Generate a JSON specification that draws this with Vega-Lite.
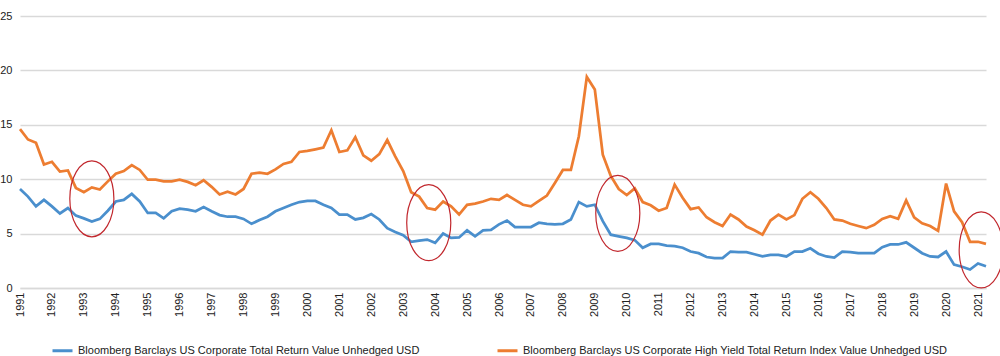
{
  "$schema": "https://vega.github.io/schema/vega-lite/v6.json",
  "width": 966,
  "height": 272,
  "autosize": {"type": "none"},
  "padding": {"left": 20, "top": 16, "right": 14, "bottom": 68},
  "config": {"view": {"stroke": null}, "font": "Liberation Sans", "axisX": {"labelOverlap": false}},
  "datasets": {
    "q": [
      {"t":1991,"ig":9.1,"hy":14.6},{"t":1991.25,"ig":8.4,"hy":13.65},{"t":1991.5,"ig":7.5,"hy":13.35},{"t":1991.75,"ig":8.1,"hy":11.35},
      {"t":1992,"ig":7.5,"hy":11.6},{"t":1992.25,"ig":6.85,"hy":10.7},{"t":1992.5,"ig":7.35,"hy":10.8},{"t":1992.75,"ig":6.65,"hy":9.2},
      {"t":1993,"ig":6.4,"hy":8.8},{"t":1993.25,"ig":6.1,"hy":9.25},{"t":1993.5,"ig":6.35,"hy":9.05},{"t":1993.75,"ig":7.1,"hy":9.8},
      {"t":1994,"ig":7.95,"hy":10.5},{"t":1994.25,"ig":8.1,"hy":10.75},{"t":1994.5,"ig":8.65,"hy":11.3},{"t":1994.75,"ig":7.95,"hy":10.85},
      {"t":1995,"ig":6.9,"hy":9.95},{"t":1995.25,"ig":6.9,"hy":9.95},{"t":1995.5,"ig":6.4,"hy":9.8},{"t":1995.75,"ig":7.05,"hy":9.8},
      {"t":1996,"ig":7.3,"hy":9.95},{"t":1996.25,"ig":7.2,"hy":9.75},{"t":1996.5,"ig":7.05,"hy":9.45},{"t":1996.75,"ig":7.45,"hy":9.9},
      {"t":1997,"ig":7.05,"hy":9.3},{"t":1997.25,"ig":6.7,"hy":8.6},{"t":1997.5,"ig":6.55,"hy":8.85},{"t":1997.75,"ig":6.55,"hy":8.6},
      {"t":1998,"ig":6.35,"hy":9.1},{"t":1998.25,"ig":5.9,"hy":10.5},{"t":1998.5,"ig":6.25,"hy":10.6},{"t":1998.75,"ig":6.55,"hy":10.5},
      {"t":1999,"ig":7.05,"hy":10.9},{"t":1999.25,"ig":7.35,"hy":11.4},{"t":1999.5,"ig":7.65,"hy":11.6},{"t":1999.75,"ig":7.9,"hy":12.5},
      {"t":2000,"ig":8.0,"hy":12.6},{"t":2000.25,"ig":8.0,"hy":12.75},{"t":2000.5,"ig":7.65,"hy":12.9},{"t":2000.75,"ig":7.35,"hy":14.5},
      {"t":2001,"ig":6.75,"hy":12.5},{"t":2001.25,"ig":6.75,"hy":12.65},{"t":2001.5,"ig":6.3,"hy":13.85},{"t":2001.75,"ig":6.45,"hy":12.2},
      {"t":2002,"ig":6.8,"hy":11.7},{"t":2002.25,"ig":6.3,"hy":12.3},{"t":2002.5,"ig":5.5,"hy":13.6},{"t":2002.75,"ig":5.15,"hy":12.1},
      {"t":2003,"ig":4.85,"hy":10.75},{"t":2003.25,"ig":4.25,"hy":8.8},{"t":2003.5,"ig":4.35,"hy":8.4},{"t":2003.75,"ig":4.45,"hy":7.35},
      {"t":2004,"ig":4.15,"hy":7.2},{"t":2004.25,"ig":5.0,"hy":7.95},{"t":2004.5,"ig":4.6,"hy":7.5},{"t":2004.75,"ig":4.65,"hy":6.75},
      {"t":2005,"ig":5.3,"hy":7.65},{"t":2005.25,"ig":4.75,"hy":7.75},{"t":2005.5,"ig":5.3,"hy":7.95},{"t":2005.75,"ig":5.35,"hy":8.2},
      {"t":2006,"ig":5.85,"hy":8.1},{"t":2006.25,"ig":6.2,"hy":8.55},{"t":2006.5,"ig":5.6,"hy":8.1},{"t":2006.75,"ig":5.6,"hy":7.65},
      {"t":2007,"ig":5.6,"hy":7.5},{"t":2007.25,"ig":6.0,"hy":8.0},{"t":2007.5,"ig":5.9,"hy":8.5},{"t":2007.75,"ig":5.85,"hy":9.65},
      {"t":2008,"ig":5.9,"hy":10.85},{"t":2008.25,"ig":6.3,"hy":10.85},{"t":2008.5,"ig":7.9,"hy":13.95},{"t":2008.75,"ig":7.5,"hy":19.4},
      {"t":2009,"ig":7.65,"hy":18.25},{"t":2009.25,"ig":6.15,"hy":12.25},{"t":2009.5,"ig":4.9,"hy":10.3},{"t":2009.75,"ig":4.75,"hy":9.1},
      {"t":2010,"ig":4.6,"hy":8.55},{"t":2010.25,"ig":4.4,"hy":9.15},{"t":2010.5,"ig":3.7,"hy":7.9},{"t":2010.75,"ig":4.05,"hy":7.6},
      {"t":2011,"ig":4.05,"hy":7.1},{"t":2011.25,"ig":3.9,"hy":7.35},{"t":2011.5,"ig":3.85,"hy":9.5},{"t":2011.75,"ig":3.7,"hy":8.3},
      {"t":2012,"ig":3.35,"hy":7.25},{"t":2012.25,"ig":3.2,"hy":7.4},{"t":2012.5,"ig":2.85,"hy":6.5},{"t":2012.75,"ig":2.75,"hy":6.05},
      {"t":2013,"ig":2.75,"hy":5.7},{"t":2013.25,"ig":3.35,"hy":6.75},{"t":2013.5,"ig":3.3,"hy":6.3},{"t":2013.75,"ig":3.3,"hy":5.65},
      {"t":2014,"ig":3.1,"hy":5.3},{"t":2014.25,"ig":2.9,"hy":4.9},{"t":2014.5,"ig":3.05,"hy":6.2},{"t":2014.75,"ig":3.05,"hy":6.75},
      {"t":2015,"ig":2.9,"hy":6.3},{"t":2015.25,"ig":3.35,"hy":6.7},{"t":2015.5,"ig":3.35,"hy":8.2},{"t":2015.75,"ig":3.65,"hy":8.8},
      {"t":2016,"ig":3.15,"hy":8.2},{"t":2016.25,"ig":2.9,"hy":7.35},{"t":2016.5,"ig":2.8,"hy":6.3},{"t":2016.75,"ig":3.35,"hy":6.2},
      {"t":2017,"ig":3.3,"hy":5.9},{"t":2017.25,"ig":3.2,"hy":5.7},{"t":2017.5,"ig":3.2,"hy":5.5},{"t":2017.75,"ig":3.2,"hy":5.8},
      {"t":2018,"ig":3.75,"hy":6.35},{"t":2018.25,"ig":4.0,"hy":6.6},{"t":2018.5,"ig":4.0,"hy":6.35},{"t":2018.75,"ig":4.2,"hy":8.05},
      {"t":2019,"ig":3.7,"hy":6.5},{"t":2019.25,"ig":3.2,"hy":5.95},{"t":2019.5,"ig":2.9,"hy":5.7},{"t":2019.75,"ig":2.85,"hy":5.25},
      {"t":2020,"ig":3.35,"hy":9.6},{"t":2020.25,"ig":2.15,"hy":7.05},{"t":2020.5,"ig":1.95,"hy":6.05},{"t":2020.75,"ig":1.7,"hy":4.25},
      {"t":2021,"ig":2.25,"hy":4.25},{"t":2021.25,"ig":2.0,"hy":4.05}
    ],
    "rings": [
      {"t":1993.25,"v":8.2},{"t":2003.8,"v":6.0},{"t":2009.72,"v":6.86},{"t":2021.1,"v":3.5}
    ]
  },
  "encoding": {
    "x": {
      "field": "t", "type": "quantitative",
      "scale": {"domain": [1991, 2021.25], "nice": false, "zero": false},
      "axis": {
        "values": [1991,1992,1993,1994,1995,1996,1997,1998,1999,2000,2001,2002,2003,2004,2005,2006,2007,2008,2009,2010,2011,2012,2013,2014,2015,2016,2017,2018,2019,2020,2021],
        "format": "d", "labelAngle": -90, "grid": false, "ticks": false,
        "domain": true, "domainColor": "#d9d9d9", "domainWidth": 1.5,
        "title": null, "labelFontSize": 11, "labelColor": "#222", "labelPadding": 4, "labelFlush": false, "labelOverlap": false, "labelBound": false
      }
    }
  },
  "layer": [
    {
      "data": {"name": "q"},
      "transform": [{"fold": ["ig", "hy"], "as": ["series", "value"]}],
      "mark": {"type": "line", "strokeWidth": 2.75},
      "encoding": {
        "y": {
          "field": "value", "type": "quantitative",
          "scale": {"domain": [0, 25], "nice": false},
          "axis": {
            "values": [0, 5, 10, 15, 20, 25], "title": null, "ticks": false, "domain": false,
            "gridColor": "#d9d9d9", "gridWidth": 1.5, "labelPadding": 8,
            "labelFontSize": 11, "labelColor": "#222"
          }
        },
        "color": {
          "field": "series", "type": "nominal",
          "scale": {"domain": ["ig", "hy"], "range": ["#4a8fcd", "#ed7d31"]},
          "legend": {
            "orient": "none", "legendX": 31, "legendY": 323, "direction": "horizontal", "title": null,
            "labelExpr": "datum.label == 'ig' ? 'Bloomberg Barclays US Corporate Total Return Value Unhedged USD' : 'Bloomberg Barclays US Corporate High Yield Total Return Index Value Unhedged USD'",
            "symbolType": "stroke", "symbolStrokeWidth": 3, "symbolSize": 400,
            "labelLimit": 600, "columnPadding": 71, "labelFontSize": 11, "labelColor": "#222"
          }
        }
      }
    },
    {
      "data": {"name": "rings"},
      "mark": {
        "type": "point",
        "shape": "M0,-1A0.58,1 0 1,1 0,1A0.58,1 0 1,1 0,-1Z",
        "size": 5776, "filled": false, "stroke": "#c1272d", "strokeWidth": 1.2, "opacity": 1
      },
      "encoding": {
        "y": {"field": "v", "type": "quantitative"}
      }
    }
  ]
}
